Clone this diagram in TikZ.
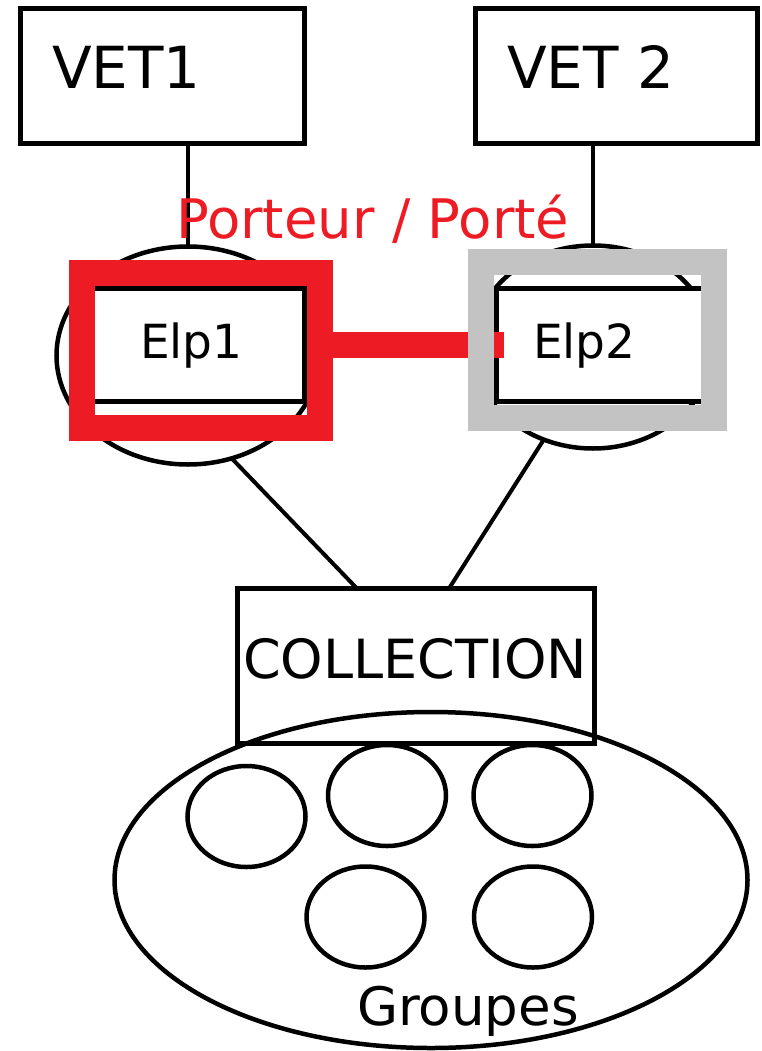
\documentclass[tikz,border=0pt]{standalone}
\usepackage{fontspec}
\newfontfamily\paintfont{DejaVu Sans}
\usepackage{tikz}
\usetikzlibrary{shapes.geometric,calc}
\definecolor{paintred}{RGB}{237,28,36}
\definecolor{paintgray}{RGB}{195,195,195}
\tikzset{
  box/.style={rectangle, draw=black, line width=4.5pt, inner sep=0pt, outer sep=0pt},
  ring/.style={ellipse, draw=black, line width=4.5pt, inner sep=0pt, outer sep=0pt},
  hilite/.style={rectangle, line width=26pt, inner sep=0pt, outer sep=0pt,
                 minimum width=238pt, minimum height=155pt},
  lbl/.style={inner sep=0pt, anchor=base west, font=\paintfont\fontsize{#1}{#1}\selectfont},
  link/.style={draw=black, line width=4pt}
}

\begin{document}
\begin{tikzpicture}[x=1pt,y=-1pt]
\useasboundingbox (0,0) rectangle (761,1051);
% VET boxes
\node[box, minimum width=284pt, minimum height=135pt] (vet1) at (162.5,76) {};
\node[box, minimum width=282pt, minimum height=135pt] (vet2) at (616.5,76) {};
\node[lbl=58] (vet1txt) at (52,89) {VET1};
\node[lbl=58] (vet2txt) at (507,89) {VET 2};
% elements and their rings
\node[ring, minimum width=263pt, minimum height=218pt] (el1) at (188,355.5) {};
\node[ring, minimum width=240pt, minimum height=203pt] (el2) at (593,347) {};
\draw[link] (vet1.south -| el1.north) -- (el1.north);
\draw[link] (vet2.south -| el2.north) -- (el2.north);
\node[lbl=54.5, text=paintred] (porte) at (176,238) {Porteur / Porté};
\node[box, fill=white, minimum width=212pt, minimum height=113pt] (elp1) at (198.5,345) {};
\node[box, fill=white, minimum width=216pt, minimum height=113pt] (elp2) at (604.5,345) {};
\node[hilite, draw=paintred] (sel1) at (201,350.5) {};
\draw[paintred, line width=26pt] (sel1.east |- elp2.west) -- ($(elp2.west)+(7,0)$);
\node[hilite, draw=paintgray, minimum width=233pt, minimum height=155.5pt] (sel2) at (597.5,339.75) {};
\node[lbl=47] (elp1txt) at (140,358) {Elp1};
\node[lbl=47] (elp2txt) at (533,358) {Elp2};
% collection and groups
\node[box, minimum width=357pt, minimum height=155pt] (coll) at (416,666) {};
\node[lbl=54] (colltxt) at (243,678) {COLLECTION};
\draw[link] (el1.293) -- ($(coll.north)+(-59,0)$);
\draw[link] (el2.242) -- ($(coll.north)+(33,0)$);
\node[ring, minimum width=633pt, minimum height=336pt] (grp) at (431,880) {};
\foreach \n/\cx/\cy in {1/246.5/816.5, 2/387/795.5, 3/532.5/795.5, 4/365.5/917, 5/533/917}
  \node[ring, minimum width=118pt, minimum height=101pt] (g\n) at (\cx,\cy) {};
\node[lbl=53] (grptxt) at (357,1025) {Groupes};
\end{tikzpicture}
\end{document}
